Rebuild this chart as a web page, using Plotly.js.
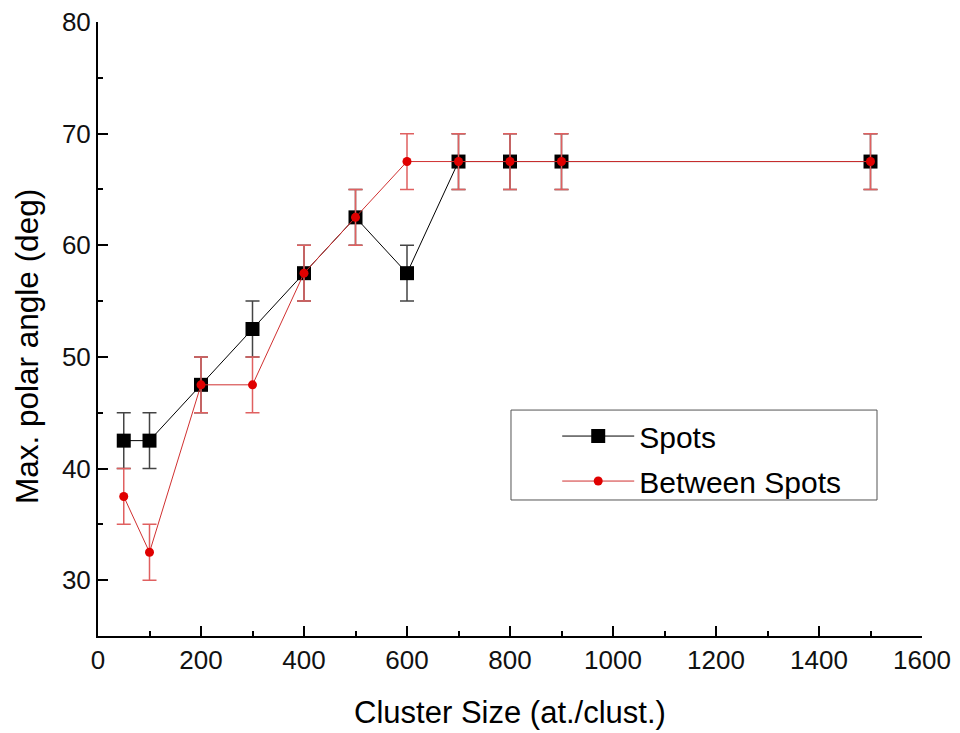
<!DOCTYPE html>
<html>
<head>
<meta charset="utf-8">
<script src="https://cdn.plot.ly/plotly-3.0.1.min.js"></script>
<style>html,body{margin:0;padding:0;background:#fff;}#chart{width:960px;height:733px;}</style>
</head>
<body>
<div id="chart"></div>
<script>
const clusterSize = [50, 100, 200, 300, 400, 500, 600, 700, 800, 900, 1500];
const spotsAngle = [42.5, 42.5, 47.5, 52.5, 57.5, 62.5, 57.5, 67.5, 67.5, 67.5, 67.5];
const spotsErr = [2.5, 2.5, 2.5, 2.5, 2.5, 2.5, 2.5, 2.5, 2.5, 2.5, 2.5];
const betweenAngle = [37.5, 32.5, 47.5, 47.5, 57.5, 62.5, 67.5, 67.5, 67.5, 67.5, 67.5];
const betweenErr = [2.5, 2.5, 2.5, 2.5, 2.5, 2.5, 2.5, 2.5, 2.5, 2.5, 2.5];
const xTicks = [0, 200, 400, 600, 800, 1000, 1200, 1400, 1600];
const yTicks = [30, 40, 50, 60, 70, 80];
const xTitle = 'Cluster Size (at./clust.)';
const yTitle = 'Max. polar angle (deg)';

const font = "Liberation Sans, Arial, sans-serif";

const traces = [
  {
    x: clusterSize, y: spotsAngle, name: 'Spots', type: 'scatter', mode: 'lines+markers',
    legendgroup: 'a',
    line: {color: '#000000', width: 1},
    marker: {symbol: 'square', size: 14, color: '#000000'},
    error_y: {type: 'data', array: spotsErr, visible: true, color: '#444444', thickness: 1.5, width: 7}
  },
  {
    x: clusterSize, y: betweenAngle, name: 'Between Spots', type: 'scatter', mode: 'lines+markers',
    legendgroup: 'b',
    line: {color: '#d03030', width: 1},
    marker: {symbol: 'circle', size: 9, color: '#e00000'},
    error_y: {type: 'data', array: betweenErr, visible: true, color: '#e06060', thickness: 1.5, width: 7}
  }
];

const layout = {
  width: 960, height: 733,
  margin: {l: 98, r: 38, t: 22, b: 97},
  paper_bgcolor: '#ffffff', plot_bgcolor: '#ffffff',
  font: {family: font, color: '#000', size: 25},
  showlegend: true,
  legend: {
    x: 0.5573, y: 0.368, xanchor: 'left', yanchor: 'top',
    bordercolor: 'rgba(0,0,0,0)', borderwidth: 0, bgcolor: 'rgba(0,0,0,0)',
    font: {family: font, size: 30, color: '#000'},
    itemwidth: 72, traceorder: 'grouped', tracegroupgap: 3
  },
  shapes: [
    {type: 'rect', xref: 'paper', yref: 'paper', x0: 0.5012, x1: 0.9454, y0: 0.2215, y1: 0.368,
     line: {color: '#555', width: 1}, fillcolor: 'rgba(0,0,0,0)', layer: 'below'}
  ],
  annotations: [
    {text: yTitle, xref: 'paper', yref: 'paper', x: (27 - 98) / 824, y: (636 - 347) / 614,
     xanchor: 'center', yanchor: 'middle', textangle: -90, showarrow: false,
     font: {family: font, size: 31.5, color: '#000'}}
  ],
  xaxis: {
    range: [0, 1600], tickvals: xTicks, ticktext: xTicks.map(String),
    ticks: 'inside', ticklen: 10, tickwidth: 2, tickcolor: '#000',
    showline: true, linecolor: '#000', linewidth: 2, showgrid: false, zeroline: false,
    minor: {dtick: 100, tick0: 0, ticks: 'inside', ticklen: 5, tickwidth: 2, tickcolor: '#000'},
    tickfont: {family: font, size: 26, color: '#111'},
    title: {text: xTitle, font: {family: font, size: 31, color: '#000'}, standoff: 27}
  },
  yaxis: {
    range: [25, 80], tickvals: yTicks, ticktext: yTicks.map(String),
    ticks: 'inside', ticklen: 10, tickwidth: 2, tickcolor: '#000',
    showline: true, linecolor: '#000', linewidth: 2, showgrid: false, zeroline: false,
    minor: {dtick: 5, tick0: 0, ticks: 'inside', ticklen: 5, tickwidth: 2, tickcolor: '#000'},
    tickfont: {family: font, size: 26, color: '#111'}
  }
};

Plotly.newPlot('chart', traces, layout, {displayModeBar: false, staticPlot: true});
</script>
</body>
</html>
